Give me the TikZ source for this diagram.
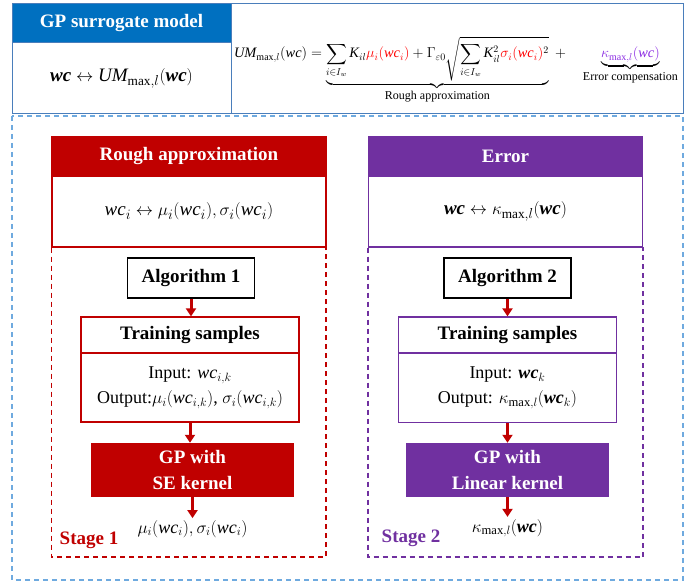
\documentclass[tikz,border=0pt]{standalone}
\usepackage{amsmath}
\usepackage{bm}
\usepackage{fontspec}
\setmainfont{Liberation Serif}
\usetikzlibrary{arrows.meta}

\definecolor{gpblue}{HTML}{0070C0}
\definecolor{tableblue}{HTML}{4A7EBB}
\definecolor{frameblue}{HTML}{6FAADF}
\definecolor{roughred}{HTML}{C00000}
\definecolor{errpurple}{HTML}{7030A0}
\definecolor{eqred}{HTML}{FF0000}
\definecolor{kapviolet}{HTML}{8A2BE2}

\newcommand\titlefont{\bfseries\fontsize{19}{25}\selectfont}
\newcommand\mapfont{\fontsize{19}{24}\selectfont}
\newcommand\bodyfont{\fontsize{18}{25}\selectfont}
\newcommand\eqfont{\fontsize{14.4}{17}\selectfont}
\newcommand\bracefont{\fontsize{12}{14}\selectfont}
% variables in the text italic
\newcommand\wc{\mathit{wc}}
\newcommand\bwc{\bm{\mathit{wc}}}
\newcommand\UM{\mathit{UM}}

\tikzstyle{headcell}=[
    draw=tableblue,
    line width=1pt,
    minimum width=219pt,
  ]
\tikzstyle{stagehead}=[
    draw,
    line width=1.2pt,
    text=white,
    font=\titlefont,
    minimum width=274pt,
    minimum height=39pt,
  ]
\tikzstyle{mapbox}=[
    draw,
    line width=1.2pt,
    font=\mapfont,
    minimum width=274pt,
    minimum height=71pt,
  ]
\tikzstyle{algbox}=[
    draw=black,
    line width=1.2pt,
    font=\titlefont,
    minimum width=127pt,
    minimum height=40pt,
  ]
\tikzstyle{samplehead}=[
    draw,
    line width=1.2pt,
    font=\titlefont,
    minimum width=218pt,
    minimum height=36pt,
  ]
\tikzstyle{samplebody}=[
    draw,
    line width=1.2pt,
    font=\bodyfont,
    align=center,
    minimum width=218pt,
    minimum height=69pt,
  ]
\tikzstyle{gpbox}=[
    text=white,
    font=\titlefont,
    align=center,
    minimum width=203pt,
    minimum height=54pt,
  ]
\tikzstyle{stageframe}=[
    line width=1.2pt,
    dash pattern=on 5pt off 4pt,
  ]
\tikzstyle{dep}=[
    -{Triangle[length=8pt,width=10pt]},
    line width=3pt,
    roughred,
  ]

\begin{document}
\begin{tikzpicture}[x=1pt, y=-1pt]
  \useasboundingbox (0,0) rectangle (697,583);
  % header table
  \node[headcell, fill=gpblue, text=white, font=\titlefont, minimum height=39pt] (gptitle) at (121.5,23.5) {GP surrogate model};
  \node[headcell, font=\mapfont, minimum height=71pt] (gpmap) at (121.5,78.5) {$\bwc\leftrightarrow \UM_{\max,l}(\bwc)$};
  \node[headcell, minimum width=452pt, minimum height=110pt] (eqcell) at (457,59) {};
  \node[font=\eqfont] (eq) at (456,70) {$\displaystyle \UM_{\max,l}(\wc)=\underbrace{\sum_{i\in I_w}\mathit{K}_{il}\textcolor{eqred}{\mu_i(\wc_i)}+\Gamma_{\varepsilon0}\sqrt{\sum_{i\in I_w}\mathit{K}_{il}^2\textcolor{eqred}{\sigma_i(\wc_i)}^2}}_{\mbox{\bracefont Rough approximation}}\;+\quad\underbrace{\textcolor{kapviolet}{\kappa_{\max,l}(\wc)}}_{\mbox{\bracefont Error compensation}}$};
  \draw[stageframe, frameblue] (12,116) rectangle (683,580);

  % stage 1
  \node[stagehead, draw=roughred, fill=roughred] (roughtitle) at (189,156.5) {Rough approximation};
  \node[mapbox, draw=roughred] (roughmap) at (189,211.5) {$\wc_i\leftrightarrow\mu_i(\wc_i),\sigma_i(\wc_i)$};
  \draw[stageframe, roughred] (roughmap.south west) rectangle (326,557);
  \node[algbox] (alg1) at (191,278) {Algorithm 1};
  \node[samplehead, draw=roughred] (train1head) at (190,335) {Training samples};
  \node[samplebody, draw=roughred] (train1body) at (190,387.5) {Input: $\wc_{i,k}$\\Output:$\mu_i(\wc_{i,k})$, $\sigma_i(\wc_{i,k})$};
  \node[gpbox, fill=roughred] (gp1) at (192.5,470) {GP with\\SE kernel};
  \node[font=\bodyfont, inner sep=2pt] (out1) at (192.5,529) {$\mu_i(\wc_i),\sigma_i(\wc_i)$};
  \node[font=\titlefont, text=roughred] (stage1) at (89,540) {Stage 1};

  % stage 2
  \node[stagehead, draw=errpurple, fill=errpurple] (errtitle) at (505.5,156.5) {Error};
  \node[mapbox, draw=errpurple] (errmap) at (505.5,211.5) {$\bwc\leftrightarrow\kappa_{\max,l}(\bwc)$};
  \draw[stageframe, errpurple] (errmap.south west) rectangle (643,557);
  \node[algbox] (alg2) at (507.5,278) {Algorithm 2};
  \node[samplehead, draw=errpurple] (train2head) at (507.5,335) {Training samples};
  \node[samplebody, draw=errpurple] (train2body) at (507.5,388) {Input: $\bwc_k$\\Output: $\kappa_{\max,l}(\bwc_k)$};
  \node[gpbox, fill=errpurple] (gp2) at (507.5,470) {GP with\\Linear kernel};
  \node[font=\bodyfont, inner sep=2pt] (out2) at (507.5,528) {$\kappa_{\max,l}(\bwc)$};
  \node[font=\titlefont, text=errpurple] (stage2) at (411,538) {Stage 2};

  \foreach \a/\b in {alg1/train1head, train1body/gp1, gp1/out1, alg2/train2head, train2body/gp2, gp2/out2} {%
    \draw[dep] (\a.south) -- (\a.south |- \b.north);
  }
\end{tikzpicture}
\end{document}
